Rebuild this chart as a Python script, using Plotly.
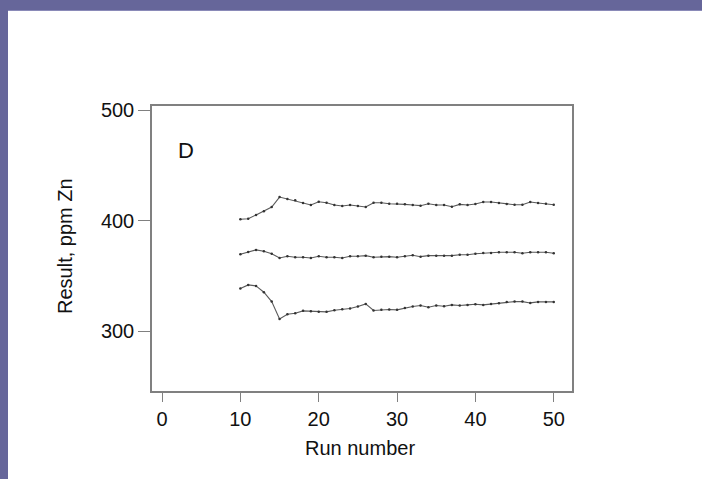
import plotly.graph_objects as go

runs = list(range(10, 51))
upper = [401.3, 401.8, 405.2, 408.5, 412.4, 421.4, 419.6, 418.4, 416.0, 414.2,
         417.2, 416.3, 414.2, 413.3, 414.2, 413.3, 412.4, 416.3, 416.3, 415.4,
         415.4, 414.8, 414.2, 413.6, 415.4, 414.2, 414.2, 412.7, 414.8, 414.2,
         415.1, 416.9, 416.9, 416.0, 415.1, 414.5, 414.5, 416.9, 416.0, 415.4, 414.5]
middle = [369.6, 371.7, 373.5, 372.3, 370.1, 366.2, 367.8, 366.9, 366.9, 366.2,
          367.8, 366.9, 366.9, 366.2, 367.8, 367.8, 368.3, 366.9, 367.4, 367.4,
          366.9, 367.8, 368.7, 367.4, 368.3, 368.3, 368.3, 368.3, 369.2, 369.2,
          370.1, 370.7, 370.7, 371.4, 371.4, 371.4, 370.5, 371.4, 371.4, 371.4, 370.5]
lower = [338.5, 341.8, 340.9, 335.2, 326.7, 311.0, 315.3, 316.2, 318.3, 318.0,
         317.4, 317.4, 318.9, 319.8, 320.4, 322.2, 324.6, 318.6, 319.2, 319.5,
         319.2, 321.0, 322.2, 323.1, 321.6, 323.1, 322.5, 323.7, 323.1, 323.7,
         324.3, 323.7, 324.6, 325.2, 326.4, 326.7, 326.7, 325.5, 326.4, 326.4, 326.4]

x_ticks = [0, 10, 20, 30, 40, 50]
y_ticks = [300, 400, 500]
panel_label = "D"
x_title = "Run number"
y_title = "Result, ppm Zn"

W, H = 702, 479
L, R, T, B = 152, 130, 106, 88
pw, ph = W - L - R, H - T - B

fig = go.Figure()
for ys in (upper, middle, lower):
    fig.add_trace(go.Scatter(
        x=runs, y=ys, mode="lines+markers",
        line=dict(color="#5a5a5a", width=1.1),
        marker=dict(color="#333333", size=2.5),
        showlegend=False, hoverinfo="skip"))

font = dict(family="Liberation Sans, Arial, sans-serif", color="#111111")

fig.update_layout(
    width=W, height=H,
    margin=dict(l=L, r=R, t=T, b=B),
    paper_bgcolor="white", plot_bgcolor="white",
    xaxis=dict(range=[-1.28, 52.33], tickvals=x_ticks, ticks="outside", ticklen=9,
               tickwidth=1.2, tickcolor="#808080", showline=True, linecolor="#808080",
               linewidth=1.5, mirror=True, showgrid=False, zeroline=False,
               tickfont=dict(size=20, **font)),
    yaxis=dict(range=[245.7, 503.9], tickvals=y_ticks, ticks="outside", ticklen=12,
               tickwidth=1.2, tickcolor="#808080", showline=True, linecolor="#808080",
               linewidth=1.5, mirror=True, showgrid=False, zeroline=False,
               tickfont=dict(size=20, **font)),
)

def px_x(p):
    return (p - L) / pw

def px_y(p):
    return 1 - (p - T) / ph

fig.add_annotation(text=panel_label, x=3, y=464, xref="x", yref="y", showarrow=False,
                   xanchor="center", yanchor="middle", font=dict(size=22, **font))
fig.add_annotation(text=x_title, x=px_x(360), y=px_y(448), xref="paper", yref="paper",
                   xanchor="center", yanchor="middle",
                   showarrow=False, font=dict(size=20, **font))
fig.add_annotation(text=y_title, x=px_x(65), y=px_y(246), xref="paper", yref="paper",
                   xanchor="center", yanchor="middle",
                   showarrow=False, textangle=-90, font=dict(size=20, **font))

band = "#66669a"
fig.add_shape(type="rect", xref="paper", yref="paper", x0=px_x(-5), x1=px_x(W + 5),
              y0=px_y(10), y1=px_y(-5), fillcolor=band, line=dict(width=0), layer="above")
fig.add_shape(type="rect", xref="paper", yref="paper", x0=px_x(-5), x1=px_x(8),
              y0=px_y(H + 5), y1=px_y(-5), fillcolor=band, line=dict(width=0), layer="above")
fig.add_shape(type="line", xref="paper", yref="paper", x0=px_x(8), x1=px_x(W + 5),
              y0=px_y(10.5), y1=px_y(10.5), line=dict(color="#8a8ab8", width=1), layer="above")

fig.write_html("out.html")
